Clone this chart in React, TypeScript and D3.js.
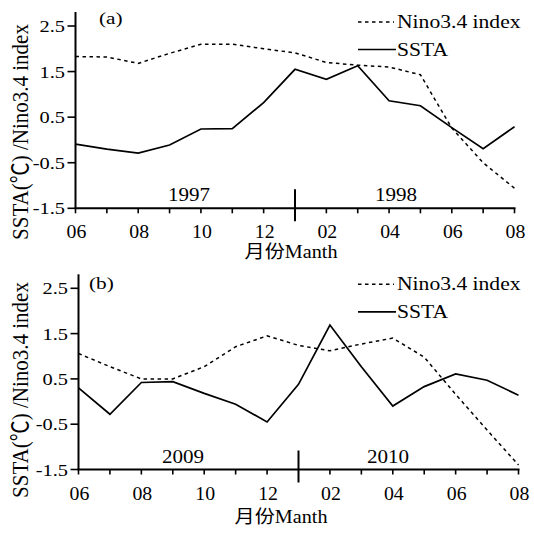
import React, { useRef, useEffect } from 'react';
import * as d3 from 'd3';

// month sequence shared by both panels (Jun .. Dec, Jan .. Aug)
const months = ["06", "07", "08", "09", "10", "11", "12", "01", "02", "03", "04", "05", "06", "07", "08"];
const yTicks = [2.5, 1.5, 0.5, -0.5, -1.5];
const yTickLabels = ["2.5", "1.5", "0.5", "-0.5", "-1.5"];

// (a) 1997-1998
const ninoA = [1.83, 1.82, 1.68, 1.90, 2.10, 2.10, 2.00, 1.91, 1.70, 1.64, 1.60, 1.43, 0.26, -0.50, -1.06];
const sstaA = [-0.09, -0.20, -0.29, -0.11, 0.24, 0.25, 0.82, 1.55, 1.33, 1.63, 0.86, 0.75, 0.27, -0.19, 0.29];
const yearsA = ["1997", "1998"];

// (b) 2009-2010
const ninoB = [1.06, 0.77, 0.50, 0.50, 0.77, 1.21, 1.45, 1.24, 1.12, 1.27, 1.40, 0.98, 0.16, -0.63, -1.40];
const sstaB = [0.30, -0.28, 0.42, 0.44, 0.18, -0.06, -0.45, 0.38, 1.69, 0.77, -0.10, 0.33, 0.61, 0.47, 0.14];
const yearsB = ["2009", "2010"];

const panels = [
    { tag: "(a)", nino: ninoA, ssta: sstaA, years: yearsA, left: 75.5, right: 514.5, top: 26, bottom: 208.3,
      tagX: 99, tagY: 24, yearX: [189, 396], titleX: 291, titleY: 258, ylabY: 132 },
    { tag: "(b)", nino: ninoB, ssta: sstaB, years: yearsB, left: 78.5, right: 518.5, top: 288.3, bottom: 469.5,
      tagX: 89, tagY: 289, yearX: [183, 388], titleX: 281, titleY: 523, ylabY: 390 },
];

const txt = (g, s, x, y, size, sx, anchor = "start") =>
    g.append("text")
        .attr("transform", `translate(${x},${y}) scale(${sx},1)`)
        .attr("text-anchor", anchor)
        .attr("font-size", size)
        .text(s);

const App = () => {
    const svgRef = useRef(null);

    useEffect(() => {
        const svg = d3.select(svgRef.current);
        svg.selectAll("*").remove();

        panels.forEach(p => {
            const g = svg.append("g");
            const x = d3.scaleLinear().domain([0, months.length - 1]).range([p.left, p.right]);
            const y = d3.scaleLinear().domain([-1.5, 2.5]).range([p.bottom, p.top]);

            // axes
            g.append("line").attr("x1", p.left).attr("x2", p.left).attr("y1", p.top - 14).attr("y2", p.bottom)
                .attr("stroke", "#000").attr("stroke-width", 2);
            g.append("line").attr("x1", p.left - 1).attr("x2", p.right + 1).attr("y1", p.bottom).attr("y2", p.bottom)
                .attr("stroke", "#000").attr("stroke-width", 2);

            yTicks.forEach((t, i) => {
                g.append("line").attr("x1", p.left - 8).attr("x2", p.left).attr("y1", y(t)).attr("y2", y(t))
                    .attr("stroke", "#000").attr("stroke-width", 1.6);
                txt(g, yTickLabels[i], p.left - 10.5, y(t) + 6, 17, 1.2, "end");
            });

            months.forEach((m, i) => {
                if (i === 7) {
                    g.append("line").attr("x1", x(i)).attr("x2", x(i)).attr("y1", p.bottom - 19).attr("y2", p.bottom + 13)
                        .attr("stroke", "#000").attr("stroke-width", 2);
                } else {
                    g.append("line").attr("x1", x(i)).attr("x2", x(i)).attr("y1", p.bottom).attr("y2", p.bottom + 5)
                        .attr("stroke", "#000").attr("stroke-width", 1.6);
                }
                if (i % 2 === 0) txt(g, m, x(i) + 1, p.bottom + 30, 18, 1.1, "middle");
            });

            // year labels either side of the divider
            p.years.forEach((yr, i) => txt(g, yr, p.yearX[i], p.bottom - 7, 18, 1.17, "middle"));

            const line = d3.line().x((d, i) => x(i)).y(d => y(d));
            g.append("path").attr("d", line(p.nino)).attr("fill", "none").attr("stroke", "#000")
                .attr("stroke-width", 1.5).attr("stroke-dasharray", "3.5,3.5");
            g.append("path").attr("d", line(p.ssta)).attr("fill", "none").attr("stroke", "#000")
                .attr("stroke-width", 1.7);

            // legend
            g.append("line").attr("x1", 358).attr("x2", 394).attr("y1", p.top - 4).attr("y2", p.top - 4)
                .attr("stroke", "#000").attr("stroke-width", 1.5).attr("stroke-dasharray", "3.5,3.5");
            txt(g, "Nino3.4 index", 397, p.top + 1.5, 18, 1.2);
            g.append("line").attr("x1", 358).attr("x2", 396).attr("y1", p.top + 23.5).attr("y2", p.top + 23.5)
                .attr("stroke", "#000").attr("stroke-width", 1.7);
            txt(g, "SSTA", 397, p.top + 29.5, 18, 1.2);

            txt(g, p.tag, p.tagX, p.tagY, 17, 1.25);
            txt(g, "月份Manth", p.titleX, p.titleY, 18, 1.12, "middle");

            g.append("text")
                .attr("transform", `translate(28,${p.ylabY}) rotate(-90) scale(1,1.1)`)
                .attr("text-anchor", "middle")
                .attr("font-size", 21)
                .text("SSTA(℃) /Nino3.4 index");
        });
    }, []);

    return (
        <svg ref={svgRef} width={534} height={533}
            style={{ position: "absolute", left: 0, top: 0, background: "#fff",
                fontFamily: "'Liberation Serif', 'Times New Roman', 'Noto Sans CJK SC', serif" }} />
    );
};

export default App;
